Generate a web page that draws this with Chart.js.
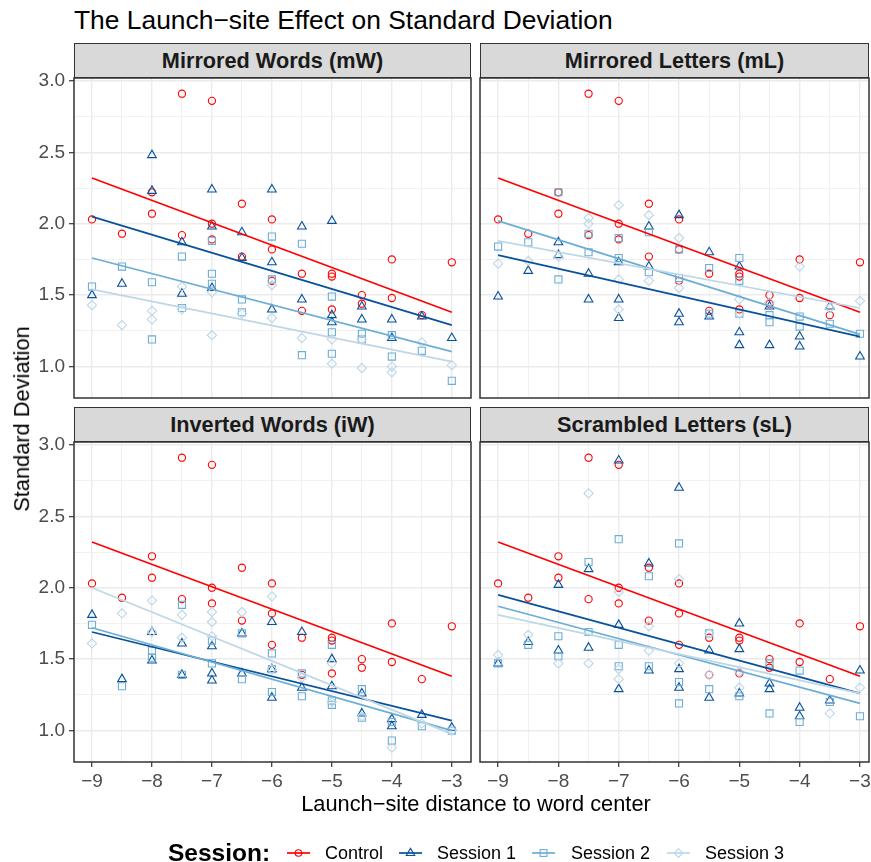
<!DOCTYPE html>
<html><head><meta charset="utf-8">
<script src="https://cdn.jsdelivr.net/npm/chart.js@4/dist/chart.umd.min.js"></script>
<style>
html,body{margin:0;overflow:hidden;}
body{background:#fff;width:871px;height:862px;position:relative;font-family:"Liberation Sans",Arial,Helvetica,sans-serif;}
canvas{position:absolute;left:0;top:0;}
.strip{position:absolute;box-sizing:border-box;background:#D9D9D9;border:1.5px solid #333333;font-weight:bold;font-size:21.7px;color:#1A1A1A;display:flex;align-items:center;justify-content:center;line-height:1;}
.txt{position:absolute;white-space:nowrap;line-height:1;color:#000;}
.leg{position:absolute;white-space:nowrap;line-height:1;font-size:18px;color:#000;}
svg{position:absolute;}
</style>
</head><body>
<div class="txt" style="left:74px;top:7px;font-size:26.4px;">The Launch−site Effect on Standard Deviation</div>
<div class="strip" style="left:74px;top:43px;width:397px;height:35px;">Mirrored Words (mW)</div>
<div class="strip" style="left:480px;top:43px;width:389px;height:35px;">Mirrored Letters (mL)</div>
<div class="strip" style="left:74px;top:407px;width:397px;height:35px;">Inverted Words (iW)</div>
<div class="strip" style="left:480px;top:407px;width:389px;height:35px;">Scrambled Letters (sL)</div>
<canvas id="c1" width="900" height="862"></canvas>
<canvas id="c2" width="900" height="862"></canvas>
<canvas id="c3" width="900" height="862"></canvas>
<canvas id="c4" width="900" height="862"></canvas>
<div class="txt" style="left:476px;top:793px;font-size:21.8px;transform:translateX(-50%);">Launch−site distance to word center</div>
<div class="txt" style="left:22px;top:419px;font-size:21.8px;transform:translate(-50%,-50%) rotate(-90deg);">Standard Deviation</div>
<div id="legend"></div>
<script>
// ---------- DATA ----------
const seriesNames = ["Control", "Session 1", "Session 2", "Session 3"];
const seriesColors = ["#FF0000", "#08519C", "#6BAED6", "#BDD7E7"];
const xTickValues = [-9, -8.5, -8, -7.5, -7, -6.5, -6, -5.5, -5, -4.5, -4, -3.5, -3];
const yTickValues = [1.0, 1.25, 1.5, 1.75, 2.0, 2.25, 2.5, 2.75, 3.0];
const fitX = [-9, -3];

// Control (same in every panel)
const control = [[-9,2.03],[-8.5,1.93],[-8,2.22],[-8,2.07],[-7.5,2.91],[-7.5,1.92],[-7,2.86],[-7,2.00],[-7,1.89],
  [-6.5,2.14],[-6.5,1.77],[-6,2.03],[-6,1.82],[-6,1.60],[-5.5,1.65],[-5.5,1.39],[-5,1.65],[-5,1.63],[-5,1.40],
  [-4.5,1.50],[-4.5,1.44],[-4,1.75],[-4,1.48],[-3.5,1.36],[-3,1.73]];

// Mirrored Words (mW)
const mW_s1 = [[-9,1.50],[-8.5,1.58],[-8,2.48],[-8,2.23],[-7.5,1.87],[-7.5,1.51],[-7,2.24],[-7,1.98],[-7,1.55],
  [-6.5,1.94],[-6.5,1.76],[-6,2.24],[-6,1.73],[-6,1.40],[-5.5,1.98],[-5.5,1.47],[-5,2.02],[-5,1.36],[-5,1.31],
  [-4.5,1.42],[-4.5,1.33],[-4,1.33],[-4,1.20],[-3.5,1.35],[-3,1.20]];
const mW_s2 = [[-9,1.56],[-8.5,1.70],[-8,1.59],[-8,1.19],[-7.5,1.77],[-7.5,1.41],[-7,1.88],[-7,1.65],[-7,1.58],
  [-6.5,1.47],[-6.5,1.38],[-6,1.91],[-6,1.61],[-5.5,1.86],[-5.5,1.08],[-5,1.49],[-5,1.24],[-5,1.09],
  [-4.5,1.23],[-4.5,1.19],[-4,1.22],[-4,1.07],[-3.5,1.11],[-3,0.90]];
const mW_s3 = [[-9,1.43],[-8.5,1.29],[-8,1.39],[-8,1.33],[-7.5,1.56],[-7.5,1.40],[-7,1.52],[-7,1.22],[-6.5,1.37],
  [-6,1.57],[-6,1.34],[-5.5,1.20],[-5,1.19],[-5,1.02],[-4.5,1.19],[-4.5,0.99],[-4,1.00],[-4,0.96],[-3.5,1.17],[-3,1.01]];
const mW_fits = [[2.32,1.38],[2.05,1.29],[1.76,1.105],[1.54,1.035]];

// Mirrored Letters (mL)
const mL_s1 = [[-9,1.49],[-8.5,1.67],[-8,1.87],[-8,1.78],[-7.5,1.65],[-7.5,1.47],[-7,1.73],[-7,1.47],[-7,1.34],
  [-6.5,1.98],[-6.5,1.70],[-6,2.06],[-6,1.37],[-6,1.31],[-5.5,1.80],[-5.5,1.35],[-5,1.70],[-5,1.24],[-5,1.15],
  [-4.5,1.42],[-4.5,1.15],[-4,1.21],[-4,1.14],[-3.5,1.42],[-3,1.07]];
const mL_s2 = [[-9,1.84],[-8.5,1.87],[-8,2.22],[-8,1.61],[-7.5,1.93],[-7.5,1.80],[-7,1.90],[-7,1.76],
  [-6.5,1.94],[-6.5,1.66],[-6,1.82],[-6,1.62],[-5.5,1.69],[-5.5,1.37],[-5,1.76],[-5,1.60],[-5,1.37],
  [-4.5,1.36],[-4.5,1.31],[-4,1.35],[-4,1.28],[-3.5,1.30],[-3,1.23]];
const mL_s3 = [[-9,1.72],[-8.5,1.74],[-8,1.77],[-7.5,2.04],[-7.5,2.00],[-7,2.13],[-7,1.61],[-7,1.40],
  [-6.5,2.06],[-6.5,1.60],[-6,1.90],[-6,1.55],[-5,1.47],[-5,1.37],[-4.5,1.45],[-4,1.70],[-3.5,1.41],[-3,1.46]];
const mL_fits = [[2.32,1.38],[1.78,1.21],[2.02,1.225],[1.88,1.41]];

// Inverted Words (iW)
const iW_s1 = [[-9,1.81],[-8.5,1.36],[-8,1.69],[-8,1.49],[-7.5,1.61],[-7.5,1.39],[-7,1.59],[-7,1.40],[-7,1.35],
  [-6.5,1.68],[-6.5,1.40],[-6,1.76],[-6,1.43],[-6,1.23],[-5.5,1.69],[-5.5,1.30],[-5,1.50],[-5,1.31],
  [-4.5,1.26],[-4.5,1.12],[-4,1.08],[-4,1.03],[-3.5,1.11],[-3,1.02]];
const iW_s2 = [[-9,1.74],[-8.5,1.31],[-8,1.56],[-8,1.51],[-7.5,1.88],[-7.5,1.39],[-7,1.63],[-7,1.47],
  [-6.5,1.68],[-6.5,1.36],[-6,1.54],[-6,1.43],[-6,1.27],[-5.5,1.40],[-5.5,1.24],[-5,1.60],[-5,1.21],[-5,1.18],
  [-4.5,1.29],[-4.5,1.09],[-4,1.06],[-4,0.93],[-3.5,1.03],[-3,1.00]];
const iW_s3 = [[-9,1.61],[-8.5,1.82],[-8,1.91],[-8,1.69],[-7.5,1.81],[-7.5,1.65],[-7,1.83],[-7,1.76],[-7,1.66],
  [-6.5,1.83],[-6,1.94],[-6,1.43],[-5.5,1.37],[-5,1.47],[-5,1.20],[-4.5,1.10],[-4,0.88],[-3.5,1.05],[-3,1.00]];
const iW_fits = [[2.32,1.38],[1.69,1.07],[1.72,1.00],[2.00,0.975]];

// Scrambled Letters (sL)
const sL_s1 = [[-9,1.47],[-8.5,1.62],[-8,2.02],[-8,1.56],[-7.5,2.13],[-7.5,1.58],[-7,2.89],[-7,1.74],[-7,1.29],
  [-6.5,2.17],[-6.5,1.42],[-6,2.70],[-6,1.43],[-6,1.30],[-5.5,1.56],[-5.5,1.23],[-5,1.75],[-5,1.57],[-5,1.26],
  [-4.5,1.33],[-4.5,1.29],[-4,1.16],[-4,1.10],[-3.5,1.21],[-3,1.42]];
const sL_s2 = [[-9,1.47],[-8.5,1.60],[-8,1.66],[-8,1.52],[-7.5,2.18],[-7.5,1.69],[-7,2.34],[-7,1.60],[-7,1.45],
  [-6.5,2.08],[-6.5,1.45],[-6,2.31],[-6,1.34],[-6,1.19],[-5.5,1.68],[-5.5,1.29],[-5,1.24],
  [-4.5,1.47],[-4.5,1.12],[-4,1.42],[-4,1.06],[-3.5,1.20],[-3,1.10]];
const sL_s3 = [[-9,1.53],[-8.5,1.67],[-8,1.47],[-7.5,2.66],[-7.5,1.47],[-7,1.97],[-7,1.43],[-7,1.36],
  [-6.5,1.73],[-6.5,1.56],[-6,2.06],[-6,1.47],[-5.5,1.68],[-5.5,1.39],[-5,1.41],[-5,1.30],[-3.5,1.12],[-3,1.30]];
const sL_fits = [[2.32,1.38],[1.95,1.26],[1.87,1.19],[1.81,1.26]];

// ---------- STYLE ----------
const CW = 900, CH = 862;
const pointStyles = ["circle", "triangle", "rect", "rectRot"];
const pointRadii = [3.6, 5, 5, 4.6];

const borderPlugin = {
  id: 'panelBorder',
  afterDraw(chart) {
    const {ctx, chartArea: a} = chart;
    ctx.save();
    ctx.strokeStyle = '#333333';
    ctx.lineWidth = 1.5;
    ctx.strokeRect(a.left, a.top, a.right - a.left, a.bottom - a.top);
    ctx.restore();
  }
};

function noPad(s) { s.paddingLeft = 0; s.paddingRight = 0; s.paddingTop = 0; s.paddingBottom = 0; }

function makePanel(id, pointSets, fits, box, showX, showY) {
  const yW = showY ? 74 : 0;
  const xH = showX ? 30 : 0;
  const datasets = [];
  for (let i = 0; i < 4; i++) {
    datasets.push({
      label: seriesNames[i],
      data: pointSets[i].map(p => ({x: p[0], y: p[1]})),
      pointStyle: pointStyles[i], pointRadius: pointRadii[i],
      borderColor: seriesColors[i], backgroundColor: 'rgba(0,0,0,0)',
      pointBorderWidth: 1.1, showLine: false, order: 7 - i
    });
    datasets.push({
      label: seriesNames[i] + ' fit',
      data: fitX.map((x, k) => ({x: x, y: fits[i][k]})),
      borderColor: seriesColors[i], borderWidth: 1.7, pointRadius: 0,
      showLine: true, fill: false, order: 3 - i
    });
  }
  const isMajX = v => Number.isInteger(v);
  const isMajY = v => Math.abs(v * 2 - Math.round(v * 2)) < 1e-6;
  new Chart(document.getElementById(id), {
    type: 'scatter',
    data: {datasets},
    options: {
      responsive: false, animation: false, events: [],
      layout: {padding: {left: box.l - yW, top: box.t, right: CW - box.r, bottom: CH - box.b - xH}},
      plugins: {legend: {display: false}, tooltip: {enabled: false}},
      scales: {
        x: {
          type: 'linear', bounds: 'data', min: box.xmin, max: box.xmax,
          afterBuildTicks: s => { s.ticks = xTickValues.map(v => ({value: v})); },
          afterFit: s => { s.height = xH; noPad(s); },
          border: {display: false},
          grid: {
            color: '#EBEBEB',
            lineWidth: c => isMajX(c.tick.value) ? 1.4 : 0.7,
            drawTicks: showX, tickLength: 5, tickWidth: 1.2,
            tickColor: c => isMajX(c.tick.value) ? '#333333' : 'rgba(0,0,0,0)'
          },
          ticks: {
            display: showX, autoSkip: false, maxRotation: 0, padding: 3,
            color: '#4D4D4D', font: {size: 19, family: '"Liberation Sans", Arial, sans-serif'},
            callback: v => isMajX(v) ? (v < 0 ? '\u2212' + Math.abs(v) : String(v)) : ''
          }
        },
        y: {
          type: 'linear', bounds: 'data', min: 0.78, max: 3.02,
          afterBuildTicks: s => { s.ticks = yTickValues.map(v => ({value: v})); },
          afterFit: s => { s.width = yW; noPad(s); },
          border: {display: false},
          grid: {
            color: '#EBEBEB',
            lineWidth: c => isMajY(c.tick.value) ? 1.4 : 0.7,
            drawTicks: showY, tickLength: 5, tickWidth: 1.2,
            tickColor: c => isMajY(c.tick.value) ? '#333333' : 'rgba(0,0,0,0)'
          },
          ticks: {
            display: showY, autoSkip: false, padding: 4,
            color: '#4D4D4D', font: {size: 19, family: '"Liberation Sans", Arial, sans-serif'},
            callback: v => isMajY(v) ? v.toFixed(1) : ''
          }
        }
      }
    },
    plugins: [borderPlugin]
  });
}

const leftBox = {l: 74, r: 471, xmin: -9.3, xmax: -2.68};
const rightBox = {l: 480, r: 869, xmin: -9.3, xmax: -2.85};
makePanel('c1', [control, mW_s1, mW_s2, mW_s3], mW_fits, {...leftBox, t: 78, b: 398}, false, true);
makePanel('c2', [control, mL_s1, mL_s2, mL_s3], mL_fits, {...rightBox, t: 78, b: 398}, false, false);
makePanel('c3', [control, iW_s1, iW_s2, iW_s3], iW_fits, {...leftBox, t: 442, b: 762}, true, true);
makePanel('c4', [control, sL_s1, sL_s2, sL_s3], sL_fits, {...rightBox, t: 442, b: 762}, true, false);

// ---------- LEGEND ----------
const legendKeyX = [287, 399, 532, 667];
const legendTextX = [325, 437, 571, 705];
const legY = 853;
let html = '<div class="leg" style="left:168px;top:' + (legY - 12) + 'px;font-size:24.5px;font-weight:bold;">Session:</div>';
function markerSvg(i, cx, cy) {
  const c = seriesColors[i];
  if (i === 0) return `<circle cx="${cx}" cy="${cy}" r="3.3" fill="none" stroke="${c}" stroke-width="1.1"/>`;
  if (i === 1) return `<polygon points="${cx},${cy-4.6} ${cx+4.2},${cy+2.5} ${cx-4.2},${cy+2.5}" fill="none" stroke="${c}" stroke-width="1.1"/>`;
  if (i === 2) return `<rect x="${cx-3.4}" y="${cy-3.4}" width="6.8" height="6.8" fill="none" stroke="${c}" stroke-width="1.1"/>`;
  return `<polygon points="${cx},${cy-4.4} ${cx+4.4},${cy} ${cx},${cy+4.4} ${cx-4.4},${cy}" fill="none" stroke="${c}" stroke-width="1.1"/>`;
}
for (let i = 0; i < 4; i++) {
  html += `<svg width="24" height="14" style="left:${legendKeyX[i]}px;top:${legY - 7}px;overflow:visible">` +
    `<line x1="0" y1="7" x2="23" y2="7" stroke="${seriesColors[i]}" stroke-width="1.7"/>` + markerSvg(i, 11.5, 7) + `</svg>`;
  html += `<div class="leg" style="left:${legendTextX[i]}px;top:${legY - 9}px;">${seriesNames[i]}</div>`;
}
document.getElementById('legend').innerHTML = html;
</script>
</body></html>
